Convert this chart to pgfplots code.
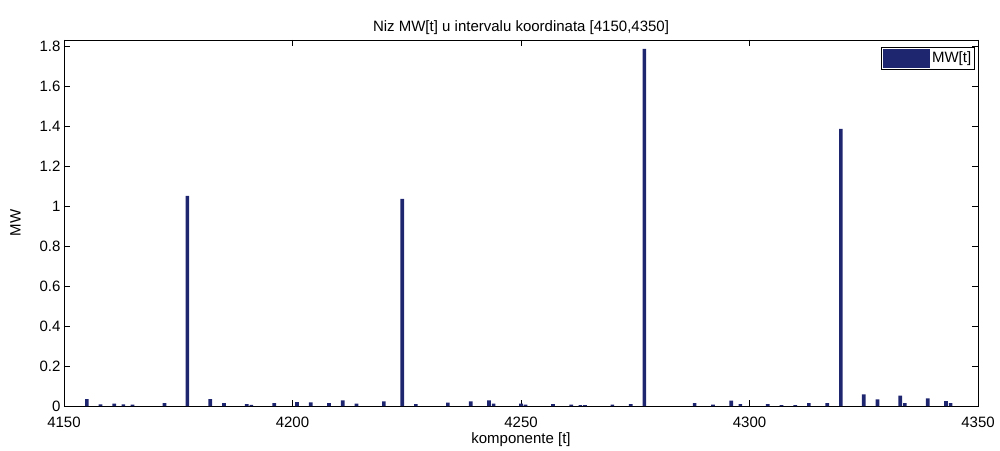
\documentclass[border=0pt]{standalone}
\usepackage{pgfplots}
\pgfplotsset{compat=1.18}
\usepackage{fontspec}
\setmainfont{Liberation Sans}
\definecolor{barblue}{RGB}{30,38,112}

\pgfplotstableread{
t     mw
4155  0.035
4158  0.008
4161  0.012
4163  0.008
4165  0.007
4172  0.015
4177  1.050
4182  0.035
4185  0.015
4190  0.010
4191  0.006
4196  0.015
4201  0.020
4204  0.018
4208  0.015
4211  0.028
4214  0.012
4220  0.023
4224  1.035
4227  0.010
4234  0.017
4239  0.023
4243  0.028
4244  0.012
4250  0.012
4251  0.007
4257  0.010
4261  0.007
4263  0.004
4264  0.004
4270  0.007
4274  0.010
4277  1.785
4288  0.015
4292  0.007
4296  0.027
4298  0.010
4304  0.010
4307  0.005
4310  0.005
4313  0.015
4317  0.015
4320  1.385
4325  0.058
4328  0.033
4333  0.052
4334  0.015
4339  0.038
4343  0.025
4344  0.015
}\mwdata

\begin{document}
\begin{tikzpicture}
\useasboundingbox (-64pt,-44pt) rectangle (936pt,406pt);
\begin{axis}[
    at={(0pt,0pt)}, anchor=south west,
    width=914pt, height=366pt,
    scale only axis,
    xmin=4150, xmax=4350,
    ymin=0, ymax=1.83,
    xtick={4150,4200,...,4350},
    ytick={0,0.2,...,1.8},
    yticklabels={0,0.2,0.4,0.6,0.8,1,1.2,1.4,1.6,1.8},
    /pgf/number format/assume math mode=true,
    /pgf/number format/set thousands separator={},
    tick label style={font=\fontsize{15}{17}\selectfont, inner ysep=0.5pt},
    xticklabel style={yshift=-10pt},
    label style={font=\fontsize{15}{17}\selectfont},
    title style={font=\fontsize{15}{17}\selectfont, yshift=-4pt},
    title={Niz MW[t] u intervalu koordinata [4150,4350]},
    xlabel={komponente [t]},
    ylabel={MW},
    xlabel style={yshift=-1pt},
    ylabel style={yshift=12pt},
    tick align=inside,
    major tick length=6pt,
    axis line style={line width=0.8pt},
    every tick/.style={black, line width=0.6pt},
    legend style={
        at={(1,1)}, anchor=north east, xshift=-3pt, yshift=-7pt,
        font=\fontsize{15}{17}\selectfont,
        draw=black, line width=0.6pt, inner sep=1.5pt,
        legend cell align=left,
    },
    legend image code/.code={
        \fill[barblue] (-0.1cm,-0.33cm) rectangle (1.55cm,0.33cm);
    },
]
\addplot[ybar, bar width=0.8, fill=barblue, draw=none] table[x=t, y=mw] {\mwdata};
\addlegendentry{MW[t]}
\end{axis}
\end{tikzpicture}
\end{document}
